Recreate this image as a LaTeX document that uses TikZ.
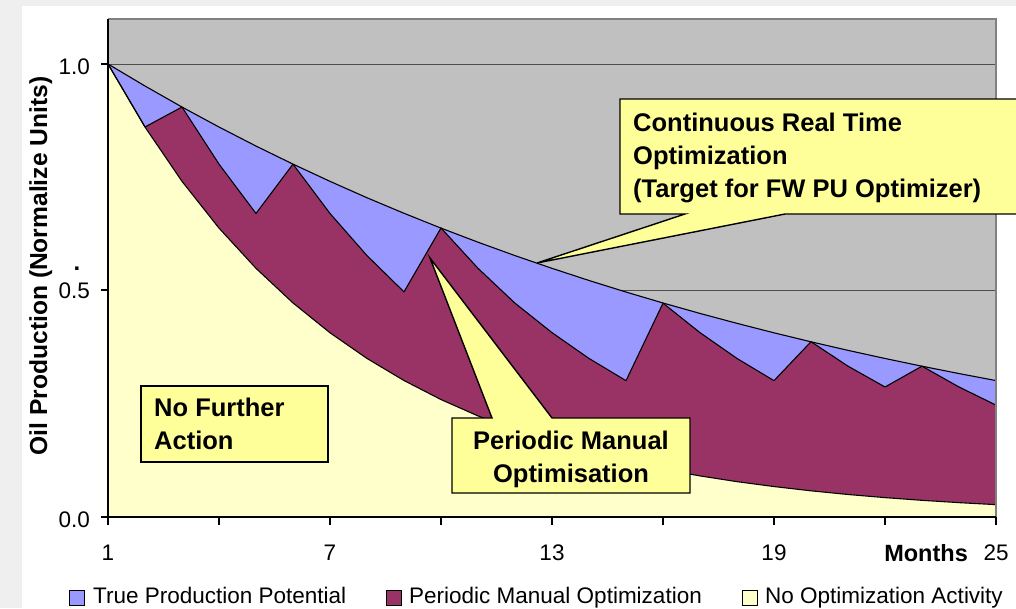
\documentclass[tikz,border=0pt]{standalone}
\usepackage{fontspec}
\setmainfont{Liberation Sans}

\definecolor{plotgrey}{HTML}{C0C0C0}
\definecolor{potential}{HTML}{9999FF}
\definecolor{manual}{HTML}{993366}
\definecolor{nofurther}{HTML}{FFFFCC}
\definecolor{callfill}{HTML}{FFFF99}
\definecolor{framegrey}{HTML}{EFEFEF}
\definecolor{gridgrey}{HTML}{4D4D4D}
\definecolor{bordergrey}{HTML}{808080}

\begin{document}
\begin{tikzpicture}[x=1pt,y=-1pt,
  callout/.style={fill=callfill, draw=black, line width=1.4pt, line join=miter},
  calltext/.style={font=\fontsize{25.5}{33}\selectfont\bfseries, inner sep=0pt},
  ticklabel/.style={font=\fontsize{22.5}{27}\selectfont, inner sep=0pt},
  legendtext/.style={font=\fontsize{22.5}{27}\selectfont, inner sep=0pt, anchor=base west},
  legendkey/.style={draw=black, line width=0.8pt},
  series/.style={draw=black, line width=1.1pt, line join=round},
]
\useasboundingbox (0,0) rectangle (1016,608);
\clip (0,0) rectangle (1016,608);

% page background
\fill[framegrey] (0,0) rectangle (1016,608);
\fill[white] (22,6) rectangle (1016,608);

% plot area and gridlines
\fill[plotgrey] (108,19) rectangle (996,517);
\draw[gridgrey, line width=0.9pt] (108,64) -- (996,64);
\draw[gridgrey, line width=0.9pt] (108,290) -- (996,290);

% stacked areas (months 1..25 -> 0..24, production in normalised units)
\begin{scope}[shift={(108,517)}, x=37pt, y=453pt]
  \fill[potential] (0,0) -- plot[domain=0:24, samples=25] (\x,{exp(-0.05*\x)}) -- (24,0) -- cycle;
  \fill[manual] (0,0) -- plot coordinates {
    (0,1.000) (1,0.861) (2,0.905) (3,0.779) (4,0.670) (5,0.779) (6,0.670)
    (7,0.577) (8,0.497) (9,0.638) (10,0.549) (11,0.472) (12,0.407) (13,0.350)
    (14,0.301) (15,0.472) (16,0.407) (17,0.350) (18,0.301) (19,0.387) (20,0.333)
    (21,0.287) (22,0.333) (23,0.287) (24,0.247)} -- (24,0) -- cycle;
  \fill[nofurther] (0,0) -- plot[domain=0:24, samples=25] (\x,{exp(-0.15*\x)}) -- (24,0) -- cycle;

  \draw[series] plot[domain=0:24, samples=25] (\x,{exp(-0.05*\x)});
  \draw[series] plot coordinates {
    (0,1.000) (1,0.861) (2,0.905) (3,0.779) (4,0.670) (5,0.779) (6,0.670)
    (7,0.577) (8,0.497) (9,0.638) (10,0.549) (11,0.472) (12,0.407) (13,0.350)
    (14,0.301) (15,0.472) (16,0.407) (17,0.350) (18,0.301) (19,0.387) (20,0.333)
    (21,0.287) (22,0.333) (23,0.287) (24,0.247)};
  \draw[series] plot[domain=0:24, samples=25] (\x,{exp(-0.15*\x)});
\end{scope}

% frame and axes
\draw[bordergrey, line width=1.1pt] (108,19) -- (996,19) -- (996,517);
\draw[black, line width=1.2pt] (108,19) -- (108,517) -- (996,517);
\foreach \tx in {108,219,330,441,552,663,774,885,996}
  \draw[black, line width=1.2pt] (\tx,517) -- (\tx,525);
\foreach \ty in {64,290,517}
  \draw[black, line width=1.2pt] (101,\ty) -- (108,\ty);

% axis labels
\node[ticklabel, anchor=base east] (y10) at (90,74) {1.0};
\node[ticklabel, anchor=base east] (y05) at (90,298) {0.5};
\node[ticklabel, anchor=base east] (y00) at (90,527) {0.0};
\node[ticklabel, anchor=base] (x1) at (108,560) {1};
\node[ticklabel, anchor=base] (x7) at (330,560) {7};
\node[ticklabel, anchor=base] (x13) at (552,560) {13};
\node[ticklabel, anchor=base] (x19) at (774,560) {19};
\node[ticklabel, anchor=base] (x25) at (996,560) {25};
\node[font=\fontsize{23.5}{28}\selectfont\bfseries, inner sep=0pt, anchor=base east] (months) at (968,561) {Months};
\node[font=\fontsize{24.6}{30}\selectfont\bfseries, inner sep=0pt, rotate=90, anchor=base] (ytitle) at (47,266) {Oil Production (Normalize Units)};
\node[font=\fontsize{24}{30}\selectfont\bfseries, inner sep=0pt, anchor=base] (dot) at (77,270) {.};

% callout: continuous optimisation (anchored on the baseline of its last line)
\coordinate (tipA) at (537,263);
\path[callout] (620,99) -- (1030,99) -- (1030,214) -- (785,214) -- (tipA) -- (685,214) -- (620,214) -- cycle;
\node[calltext, anchor=base west, align=left] (crto) at (633,197)
  {Continuous Real Time\\Optimization\\(Target for FW PU Optimizer)};

% callout: periodic manual optimisation
\coordinate (tipB) at (430,258);
\path[callout] (452,418) -- (492,418) -- (tipB) -- (552,418) -- (690,418) -- (690,493) -- (452,493) -- cycle;
\node[calltext, anchor=base, align=center] (pmo) at (571,482)
  {Periodic Manual\\Optimisation};

% callout: no further action
\path[callout] (141,386) rectangle (328,462);
\node[calltext, anchor=base west, align=left] (nfa) at (154,449)
  {No Further\\Action};

% legend
\filldraw[legendkey, fill=potential] (69,590) rectangle (84,605);
\node[legendtext] (lg1) at (93,603) {True Production Potential};
\filldraw[legendkey, fill=manual] (386,590) rectangle (401,605);
\node[legendtext] (lg2) at (409,603) {Periodic Manual Optimization};
\filldraw[legendkey, fill=nofurther] (742,590) rectangle (757,605);
\node[legendtext] (lg3) at (765,603) {No Optimization Activity};
\end{tikzpicture}
\end{document}
